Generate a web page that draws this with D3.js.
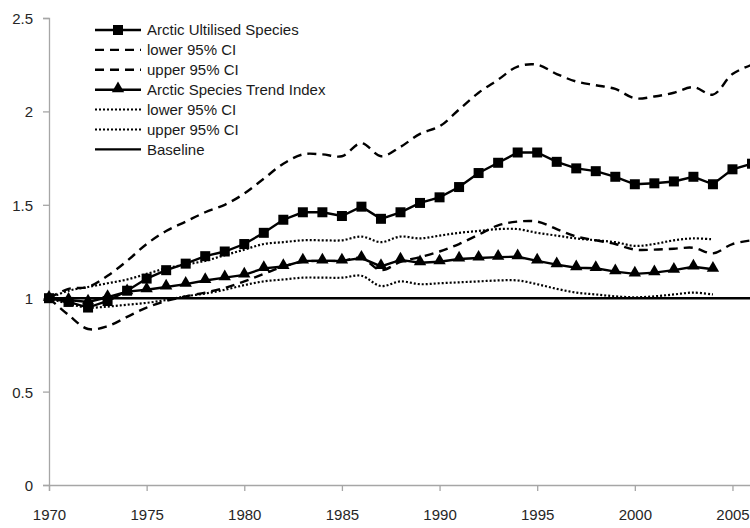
<!DOCTYPE html>
<html>
<head>
<meta charset="utf-8">
<script src="https://cdn.jsdelivr.net/npm/d3@7"></script>
<style>
  body { margin: 0; background: #fff; }
  text { font-family: "Liberation Sans", Arial, sans-serif; }
</style>
</head>
<body>
<div id="content"></div>
<script>
// years on the category axis
var years = [1970, 1971, 1972, 1973, 1974, 1975, 1976, 1977, 1978, 1979,
             1980, 1981, 1982, 1983, 1984, 1985, 1986, 1987, 1988, 1989,
             1990, 1991, 1992, 1993, 1994, 1995, 1996, 1997, 1998, 1999,
             2000, 2001, 2002, 2003, 2004, 2005, 2006];
var xTickLabels = [1970, 1975, 1980, 1985, 1990, 1995, 2000, 2005];
var yTickLabels = [0, 0.5, 1, 1.5, 2, 2.5];

// Arctic Ultilised Species (1970-2006)
var utilised = [1.00, 0.98, 0.95, 0.985, 1.04, 1.105, 1.15, 1.185, 1.225, 1.25,
                1.29, 1.35, 1.42, 1.46, 1.46, 1.44, 1.49, 1.425, 1.46, 1.51,
                1.54, 1.595, 1.67, 1.725, 1.78, 1.78, 1.73, 1.695, 1.68, 1.65,
                1.61, 1.615, 1.625, 1.65, 1.61, 1.69, 1.72];
var utilLower = [1.00, 0.91, 0.835, 0.85, 0.90, 0.95, 0.985, 1.01, 1.03, 1.055,
                 1.09, 1.13, 1.17, 1.195, 1.20, 1.20, 1.215, 1.15, 1.195, 1.22,
                 1.25, 1.29, 1.34, 1.39, 1.41, 1.41, 1.37, 1.33, 1.31, 1.29,
                 1.26, 1.26, 1.265, 1.27, 1.24, 1.29, 1.31];
var utilUpper = [1.00, 1.05, 1.06, 1.12, 1.20, 1.29, 1.36, 1.41, 1.46, 1.50,
                 1.56, 1.64, 1.72, 1.77, 1.77, 1.76, 1.83, 1.76, 1.81, 1.88,
                 1.92, 2.01, 2.10, 2.17, 2.24, 2.25, 2.20, 2.16, 2.14, 2.12,
                 2.07, 2.08, 2.10, 2.13, 2.09, 2.20, 2.25];

// Arctic Species Trend Index (1970-2004)
var trend = [1.00, 0.99, 0.98, 1.005, 1.035, 1.045, 1.06, 1.075, 1.095, 1.11,
             1.125, 1.16, 1.17, 1.20, 1.20, 1.20, 1.215, 1.17, 1.205, 1.19,
             1.195, 1.21, 1.215, 1.22, 1.222, 1.20, 1.18, 1.163, 1.16, 1.142,
             1.13, 1.137, 1.15, 1.168, 1.155];
var trendLower = [1.00, 0.97, 0.95, 0.955, 0.965, 0.975, 0.99, 1.01, 1.025, 1.045,
                  1.07, 1.09, 1.10, 1.11, 1.11, 1.11, 1.12, 1.065, 1.09, 1.075,
                  1.08, 1.085, 1.09, 1.095, 1.095, 1.075, 1.05, 1.03, 1.02, 1.01,
                  1.005, 1.01, 1.02, 1.03, 1.02];
var trendUpper = [1.00, 1.04, 1.06, 1.08, 1.10, 1.13, 1.16, 1.18, 1.20, 1.23,
                  1.26, 1.29, 1.30, 1.31, 1.31, 1.31, 1.33, 1.30, 1.33, 1.32,
                  1.335, 1.35, 1.36, 1.37, 1.37, 1.35, 1.335, 1.32, 1.31, 1.30,
                  1.28, 1.29, 1.31, 1.32, 1.315];

var baseline = [1, 1];
var baselineYears = [1970, 2006];

var legendLabels = ["Arctic Ultilised Species", "lower 95% CI", "upper 95% CI",
                    "Arctic Species Trend Index", "lower 95% CI", "upper 95% CI", "Baseline"];

function drawChart() {
    var width = 750, height = 528;

    var svg = d3.select('#content').append('svg')
        .attr('width', width)
        .attr('height', height);

    var x = d3.scaleLinear().domain([1970, 2006]).range([49, 752]);
    var y = d3.scaleLinear().domain([0, 2.5]).range([485, 18]);

    var axisColor = "#a6a6a6";

    // y axis
    var yAxis = svg.append('g')
        .attr('transform', 'translate(49,0)')
        .call(d3.axisLeft(y).tickValues(yTickLabels).tickFormat(function(d) { return String(d); })
            .tickSizeOuter(0).tickSize(6).tickPadding(10));
    // x axis
    var xAxis = svg.append('g')
        .attr('transform', 'translate(0,485)')
        .call(d3.axisBottom(x).tickValues(xTickLabels).tickFormat(function(d) { return String(d); })
            .tickSizeOuter(0).tickSize(6).tickPadding(18));

    [yAxis, xAxis].forEach(function(a) {
        a.select('.domain').attr('stroke', axisColor).attr('stroke-width', 1.3);
        a.selectAll('.tick line').attr('stroke', axisColor).attr('stroke-width', 1.3);
        a.selectAll('.tick text')
            .attr('fill', '#262626')
            .style('font-size', '15px')
            .style('font-family', '"Liberation Sans", Arial, sans-serif');
    });
    yAxis.selectAll('.tick text').attr('dy', '0.36em');

    var straight = d3.line()
        .x(function(d) { return x(d[0]); })
        .y(function(d) { return y(d[1]); });
    var smooth = d3.line()
        .x(function(d) { return x(d[0]); })
        .y(function(d) { return y(d[1]); })
        .curve(d3.curveCatmullRom);

    function pairs(xs, vs) {
        return vs.map(function(v, i) { return [xs[i], v]; });
    }

    var dashed = "9,6", dotted = "2,2";

    var lines = [
        { data: pairs(years, utilLower), gen: smooth, dash: dashed, w: 2.4 },
        { data: pairs(years, utilUpper), gen: smooth, dash: dashed, w: 2.4 },
        { data: pairs(years, trendLower), gen: smooth, dash: dotted, w: 2.2 },
        { data: pairs(years, trendUpper), gen: smooth, dash: dotted, w: 2.2 },
        { data: pairs(baselineYears, baseline), gen: straight, dash: null, w: 2.5 },
        { data: pairs(years, utilised), gen: straight, dash: null, w: 2.4 },
        { data: pairs(years, trend), gen: straight, dash: null, w: 2.4 }
    ];

    svg.append('g').selectAll('path')
        .data(lines)
        .enter()
        .append('path')
        .attr('d', function(d) { return d.gen(d.data); })
        .attr('fill', 'none')
        .attr('stroke', '#000')
        .attr('stroke-width', function(d) { return d.w; })
        .attr('stroke-dasharray', function(d) { return d.dash; });

    var sq = 10;
    svg.append('g').selectAll('rect')
        .data(pairs(years, utilised))
        .enter()
        .append('rect')
        .attr('x', function(d) { return x(d[0]) - sq / 2; })
        .attr('y', function(d) { return y(d[1]) - sq / 2; })
        .attr('width', sq)
        .attr('height', sq)
        .attr('fill', '#000');

    var tri = d3.symbol().type(d3.symbolTriangle).size(66);
    svg.append('g').selectAll('path')
        .data(pairs(years, trend))
        .enter()
        .append('path')
        .attr('d', tri)
        .attr('transform', function(d) { return 'translate(' + x(d[0]) + ',' + (y(d[1]) - 1) + ')'; })
        .attr('fill', '#000');

    // legend
    var styles = [
        { dash: null, marker: 'square' },
        { dash: dashed, marker: null },
        { dash: dashed, marker: null },
        { dash: null, marker: 'triangle' },
        { dash: dotted, marker: null },
        { dash: dotted, marker: null },
        { dash: null, marker: null }
    ];
    var legend = svg.append('g').attr('transform', 'translate(95,30)');
    var rows = legend.selectAll('g')
        .data(legendLabels)
        .enter()
        .append('g')
        .attr('transform', function(d, i) { return 'translate(0,' + (i * 19.9) + ')'; });

    rows.append('line')
        .attr('x1', 0).attr('x2', 46)
        .attr('stroke', '#000')
        .attr('stroke-width', function(d, i) { return styles[i].dash === dotted ? 2 : 2.4; })
        .attr('stroke-dasharray', function(d, i) { return styles[i].dash; });

    rows.filter(function(d, i) { return styles[i].marker === 'square'; })
        .append('rect')
        .attr('x', 23 - 5).attr('y', -5).attr('width', 10).attr('height', 10)
        .attr('fill', '#000');
    rows.filter(function(d, i) { return styles[i].marker === 'triangle'; })
        .append('path')
        .attr('d', tri)
        .attr('transform', 'translate(23,-1)')
        .attr('fill', '#000');

    rows.append('text')
        .attr('x', 52)
        .attr('dy', '0.36em')
        .attr('fill', '#1a1a1a')
        .style('font-size', '15px')
        .text(function(d) { return d; });
}

drawChart();
</script>
</body>
</html>
